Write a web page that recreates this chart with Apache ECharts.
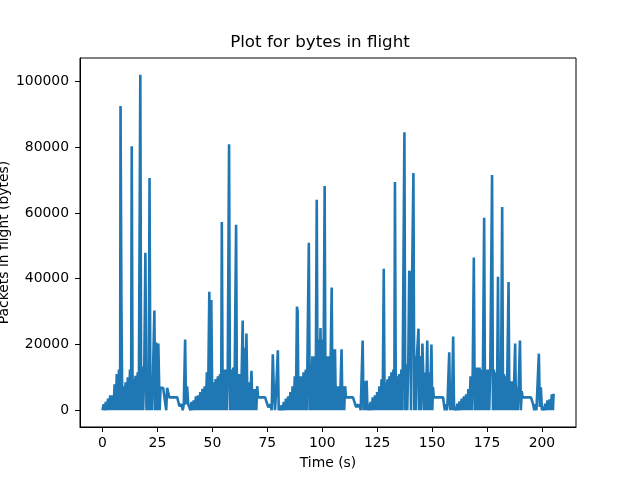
<!DOCTYPE html>
<html>
  <head>
    <meta charset="utf-8" />
    <title>Plot for bytes in flight</title>
    <script src="https://cdn.jsdelivr.net/npm/echarts@6/dist/echarts.min.js"></script>
    <style>
      html, body { margin: 0; padding: 0; background: #fff; }
      #chart { width: 640px; height: 480px; }
    </style>
  </head>
  <body>
    <div id="chart"></div>
    <script type="text/javascript">
      // [time (s), bytes in flight], one array per burst cycle
      var cycle1 = [
        [0,0],[0.5,1800],[1,0],[1.5,2500],[2,0],[2.5,3500],[3,0],[3.5,4500],[4,0],[4.5,4500],
        [5,0],[5.5,7900],[6,0],[6.5,11000],[7,0],[7.5,12400],[8,0],[8.2,92500],[8.6,33000],[9,0],
        [9.5,7300],[10,0],[10.5,8500],[11,0],[11.5,10000],[12,0],[12.5,12400],[13,0],[13.3,80300],[13.7,0],
        [14,9400],[14.5,0],[15,10500],[15.5,0],[16,11500],[16.5,0],[17.2,102000],[17.6,0],[18,13300],[18.5,0],
        [19,12000],[19.5,47900],[20,0],[20.5,10000],[21,0],[21.4,70600],[21.8,0],[22.2,9500],[22.6,0],[23.6,30300],
        [24,0],[24.5,20600],[25,0],[25.4,20300],[25.8,6800],[26,0],[26.4,6800],[27,6800],[27.6,6800],[28,6800],
        [28.5,6800],[29,0],[29.4,6800],[30,6800],[30.4,3900],[31,3900],[32,3900],[33,3900],[34,3900],[34.5,3900],
        [35,1200],[35.5,1800],[36,1800],[36.5,0],[37,1800],[37.6,21500],[38,1800],[38.5,7300],[39,1800],[39.5,1800],[40,0]
      ];
      var cycle2 = [
        [40.5,2500],[41,0],[41.5,3000],[42,0],[42.5,4200],[43,0],[43.5,4500],[44,0],[44.5,5500],[45,0],
        [45.5,6500],[46,0],[46.5,7300],[47,0],[47.5,11500],[48,0],[48.6,36000],[49,0],[49.5,33500],[50,0],
        [50.5,8500],[51,0],[51.5,9500],[52,0],[52.5,10300],[53,0],[53.5,11000],[54,0],[54.3,57200],[54.7,0],
        [55,12400],[55.5,0],[56,12400],[56.5,0],[57,13000],[57.6,80900],[58,0],[58.5,12400],[59,0],[59.5,13000],
        [60,0],[60.8,56400],[61.2,0],[61.5,11000],[62,0],[62.5,11000],[63,0],[63.8,27300],[64.2,0],[64.6,19000],
        [65,0],[65.5,23300],[66,0],[66.5,8500],[67,0],[67.8,12000],[68.2,0],[68.6,6400],[69,0],[69.5,6400],
        [70,0],[70.4,7300],[70.8,3900],[71.5,3900],[72,3900],[73,3900],[74,3900],[74.5,3900],[75,1800],[75.5,900],
        [76,900],[76.5,1800],[77,0],[77.5,17000],[78,5500],[78.5,0],[79,5500],[79.8,18200],[80.2,0]
      ];
      var cycle3 = [
        [80.5,1000],[81,0],[81.5,1500],[82,0],[82.5,2500],[83,0],[83.5,3500],[84,0],[84.5,4200],[85,0],
        [85.5,5500],[86,0],[86.5,7300],[87,0],[87.5,10300],[88,0],[88.5,31500],[88.8,30000],[89.2,0],[89.5,10300],
        [90,0],[90.5,10300],[91,0],[91.5,11500],[92,0],[92.5,12400],[93,0],[93.9,50900],[94.3,0],[94.6,14000],
        [95,0],[95.5,16400],[96,0],[96.5,16400],[97,0],[97.5,64000],[97.9,0],[98.3,21500],[98.7,0],[99.2,25000],
        [99.6,0],[100,21500],[100.5,0],[101.1,68200],[101.5,0],[102,16400],[102.5,0],[103,16400],[103.5,0],[104.3,37300],
        [104.7,0],[105,18500],[105.4,0],[105.8,18500],[106.2,0],[106.6,7300],[107,0],[107.5,7300],[108,0],[108.8,18500],
        [109.2,0],[109.6,7300],[110,0],[110.4,7300],[110.8,3900],[111.5,3900],[112,3900],[113,3900],[114,3900],[114.4,3900],
        [115,1800],[115.5,900],[116,1800],[116.5,900],[117,1800],[117.5,0],[118.4,21200],[118.8,0],[119.2,8800],[119.6,0],
        [120.2,9000],[120.6,0]
      ];
      var cycle4 = [
        [121,1800],[121.5,0],[122,2500],[122.5,0],[123,3900],[123.5,0],[124,4500],[124.5,0],[125,5500],[125.5,0],
        [126,7300],[126.5,0],[127,9400],[127.5,0],[128,43000],[128.4,0],[128.8,8500],[129.2,0],[129.7,9400],[130.1,0],
        [130.6,10300],[131,0],[131.5,11500],[132,0],[132.4,12400],[132.8,0],[133.1,69400],[133.5,0],[134,10300],[134.5,0],
        [135,11000],[135.5,0],[136,12400],[136.5,0],[137.4,84500],[137.8,0],[138.3,14000],[138.7,0],[139.2,16400],[139.6,42400],
        [140,41000],[140.4,0],[140.8,34200],[141.5,72100],[141.9,0],[142.3,16400],[142.7,0],[143.1,16400],[143.8,24800],[144.2,0],
        [144.6,16400],[145,0],[145.6,20300],[146,20000],[146.4,0],[146.8,11500],[147.2,0],[147.8,21200],[148.2,0],[148.6,11500],
        [149,0],[149.7,20000],[150.1,0],[150.4,7000],[150.8,3900],[151.5,3900],[152,3900],[153,3900],[154,3900],[155,3900],
        [155.4,1800],[155.8,0],[156.2,1800],[156.6,0],[157,1800],[157.8,17600],[158.2,0],[158.6,7900],[159,0],[159.6,22400],[160,0]
      ];
      var cycle5 = [
        [160.5,1000],[161,0],[161.5,2000],[162,0],[162.5,2700],[163,0],[163.5,3500],[164,0],[164.5,4200],[165,0],
        [165.5,4800],[166,0],[166.5,6400],[167,0],[167.5,10300],[168,0],[168.5,11500],[169,46400],[169.4,0],[169.8,13000],
        [170.2,0],[170.7,13000],[171.1,0],[171.6,13000],[172,0],[172.5,12400],[173,0],[173.7,58500],[174.1,0],[174.5,12400],
        [175,0],[175.5,12400],[176,0],[176.5,13000],[177.3,71500],[177.7,0],[178.1,12400],[178.5,0],[179,11500],[179.5,0],
        [180,40600],[180.4,0],[180.9,11500],[181.3,0],[181.9,61800],[182.3,0],[182.7,11000],[183.1,0],[183.6,10300],[184,0],
        [184.8,39000],[185.2,0],[185.6,8800],[186,0],[186.5,8800],[187,0],[187.8,20300],[188.2,0],[188.6,7000],[189,0],
        [189.4,7000],[190,21200],[190.4,0],[190.8,5800],[191.2,3900],[192,3900],[193,3900],[194,3900],[195,3900],[195.5,3900],
        [196,1800],[196.5,0],[197,1800],[197.5,0],[198.6,17200],[199,1000],[199.5,7000],[200,0],[200.5,1000],[201,0],
        [201.5,2000],[202,0],[202.5,3000],[203,0],[203.5,3300],[204,0],[204.5,4800],[205,0],[205.3,5000]
      ];
      var xTicks = [0, 25, 50, 75, 100, 125, 150, 175, 200];
      var yTicks = [0, 20000, 40000, 60000, 80000, 100000];

      var samples = cycle1.concat(cycle2, cycle3, cycle4, cycle5);
      var font = 'DejaVu Sans';
      var plain = function (v) { return String(v); };

      var chart = echarts.init(document.getElementById('chart'), null, { renderer: 'canvas' });
      chart.setOption({
        animation: false,
        backgroundColor: '#fff',
        title: {
          text: 'Plot for bytes in flight',
          left: 'center',
          top: 34,
          padding: 0,
          textStyle: { fontFamily: font, fontSize: 16.7, fontWeight: 'normal', color: '#000' }
        },
        grid: {
          left: 80, right: 64, top: 58, bottom: 53,
          outerBoundsMode: 'none',
          containLabel: false,
          show: true, borderColor: '#000', borderWidth: 1, backgroundColor: 'transparent'
        },
        xAxis: {
          type: 'value',
          min: -10.25, max: 215.5,
          name: 'Time (s)', nameLocation: 'middle', nameGap: 29,
          nameMoveOverlap: false,
          nameTextStyle: { fontFamily: font, fontSize: 13.9, color: '#000' },
          axisLine: { onZero: false, lineStyle: { color: '#000', width: 1 } },
          axisTick: { customValues: xTicks, length: 5, lineStyle: { color: '#000' } },
          axisLabel: { customValues: xTicks, formatter: plain, margin: 9, fontFamily: font, fontSize: 13.9, color: '#000' },
          splitLine: { show: false }
        },
        yAxis: {
          type: 'value',
          min: -5100, max: 107100,
          name: 'Packets in flight (bytes)', nameLocation: 'middle', nameGap: 69,
          nameMoveOverlap: false,
          nameTextStyle: { fontFamily: font, fontSize: 13.9, color: '#000' },
          axisLine: { show: true, onZero: false, lineStyle: { color: '#000', width: 1 } },
          axisTick: { show: true, customValues: yTicks, length: 5, lineStyle: { color: '#000' } },
          axisLabel: { customValues: yTicks, formatter: plain, margin: 11, fontFamily: font, fontSize: 13.9, color: '#000' },
          splitLine: { show: false }
        },
        series: [{
          type: 'line',
          data: samples,
          showSymbol: false,
          sampling: null,
          lineStyle: { color: '#1f77b4', width: 2.6 },
          itemStyle: { color: '#1f77b4' }
        }]
      });
    </script>
  </body>
</html>
